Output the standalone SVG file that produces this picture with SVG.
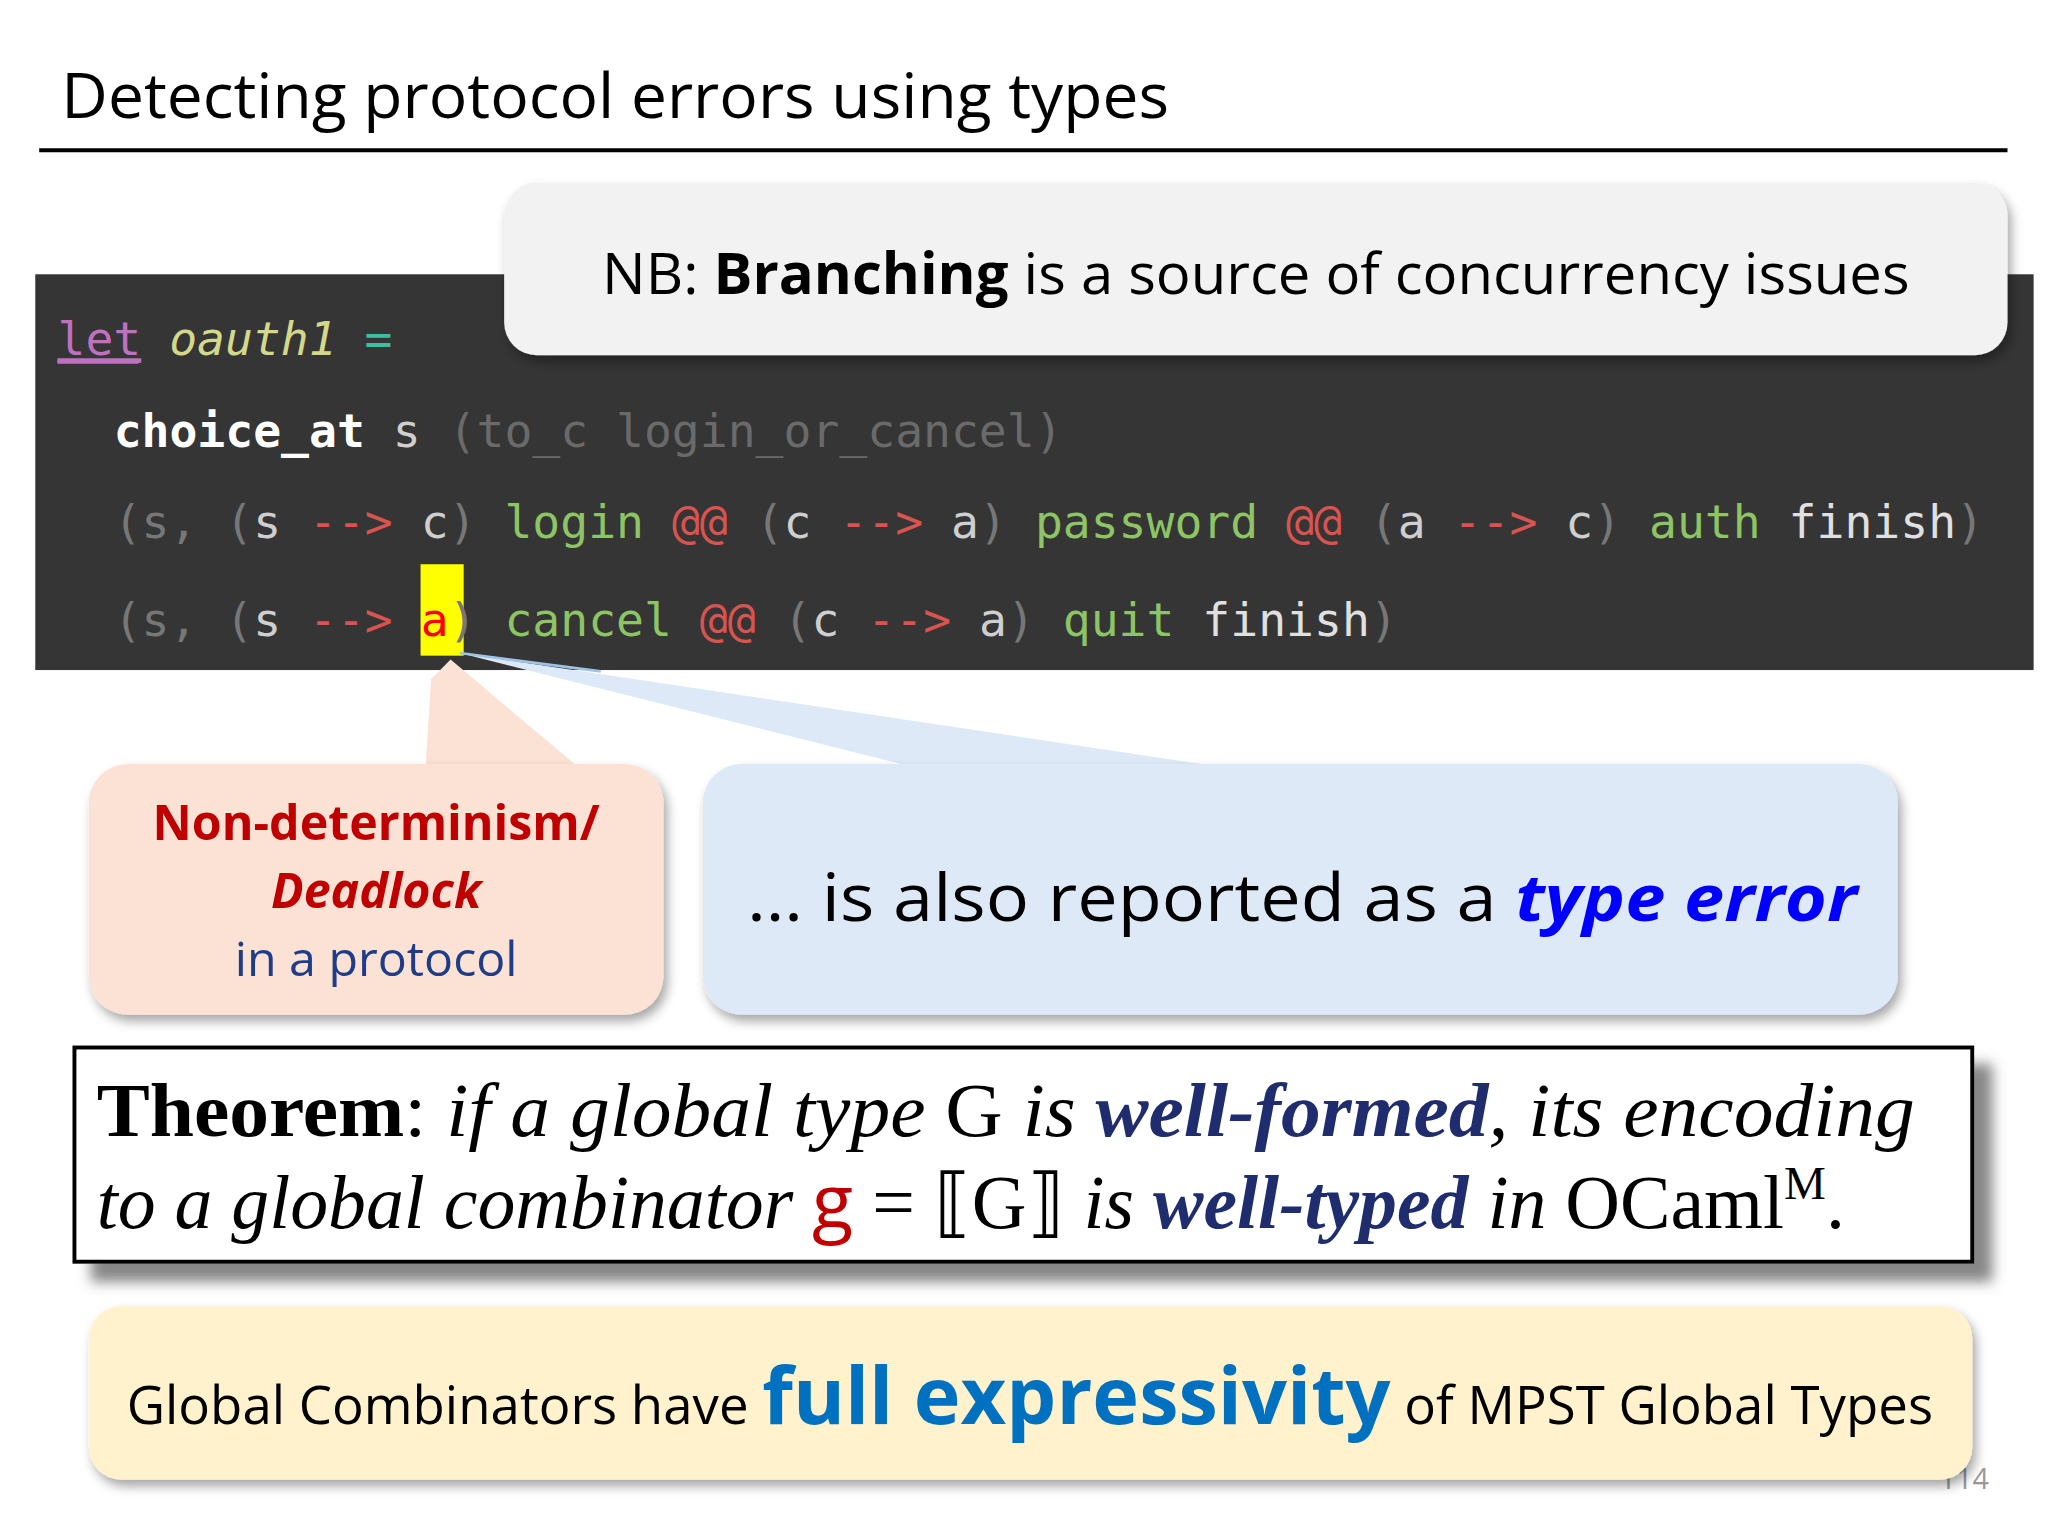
<svg xmlns="http://www.w3.org/2000/svg" width="2048" height="1536" viewBox="0 0 2048 1536">
<defs>
<filter id="sh" x="-10%" y="-10%" width="130%" height="140%"><feDropShadow dx="3" dy="5" stdDeviation="4" flood-color="#000" flood-opacity="0.35"/></filter>
<filter id="sh2" x="-10%" y="-10%" width="130%" height="150%"><feDropShadow dx="14" dy="14" stdDeviation="5" flood-color="#555" flood-opacity="0.7"/></filter>
<style>
.sans{font-family:"Open Sans","Liberation Sans",sans-serif}
.mono{font-family:"DejaVu Sans Mono","Liberation Mono",monospace;font-size:35.5px}
.serif{font-family:"Liberation Serif",serif;font-size:58px}
.p{fill:#777}.v{fill:#cfcfcf}.r{fill:#d9534f}.g{fill:#8dc464}.w{fill:#e0e0e0}
</style>
</defs>
<rect width="2048" height="1536" fill="#fff"/>
<g transform="scale(1.30612)">
<g id="title">
<text x="47" y="90" class="sans" font-size="48" fill="#000" textLength="848" lengthAdjust="spacingAndGlyphs">Detecting protocol errors using types</text>
<line x1="30" y1="115" x2="1537" y2="115" stroke="#000" stroke-width="3"/>
</g>
<text x="1485" y="1140" class="sans" font-size="22" fill="#999">114</text>
<g id="code">
<rect x="27" y="210" width="1530" height="303" fill="#353535"/>
<rect x="322" y="432" width="33" height="70" fill="#ffff00"/>
<text x="44" y="272" class="mono" xml:space="preserve"><tspan fill="#c070c0" text-decoration="underline">let</tspan> <tspan fill="#d4d88a" font-style="italic">oauth1</tspan> <tspan fill="#3cbfa0">=</tspan></text>
<line x1="44" y1="277" x2="106" y2="277" stroke="#c070c0" stroke-width="3"/>
<text x="87" y="342" class="mono" xml:space="preserve"><tspan fill="#fff" font-weight="bold">choice_at</tspan><tspan class="v"> s </tspan><tspan fill="#6a6a6a">(to_c login_or_cancel)</tspan></text>
<text x="87" y="412" class="mono" xml:space="preserve"><tspan class="p">(s, (</tspan><tspan class="v">s</tspan> <tspan class="r">--&gt;</tspan> <tspan class="v">c</tspan><tspan class="p">)</tspan> <tspan class="g">login</tspan> <tspan class="r">@@</tspan> <tspan class="p">(</tspan><tspan class="v">c</tspan> <tspan class="r">--&gt;</tspan> <tspan class="v">a</tspan><tspan class="p">)</tspan> <tspan class="g">password</tspan> <tspan class="r">@@</tspan> <tspan class="p">(</tspan><tspan class="v">a</tspan> <tspan class="r">--&gt;</tspan> <tspan class="v">c</tspan><tspan class="p">)</tspan> <tspan class="g">auth</tspan> <tspan class="w">finish</tspan><tspan class="p">)</tspan></text>
<text x="87" y="487" class="mono" xml:space="preserve"><tspan class="p">(s, (</tspan><tspan class="v">s</tspan> <tspan class="r">--&gt;</tspan> <tspan fill="#ff0000">a</tspan><tspan class="p">)</tspan> <tspan class="g">cancel</tspan> <tspan class="r">@@</tspan> <tspan class="p">(</tspan><tspan class="v">c</tspan> <tspan class="r">--&gt;</tspan> <tspan class="v">a</tspan><tspan class="p">)</tspan> <tspan class="g">quit</tspan> <tspan class="w">finish</tspan><tspan class="p">)</tspan></text>
</g>
<g id="nb">
<rect x="386" y="140" width="1151" height="132" rx="25" fill="#f2f2f2" filter="url(#sh)"/>
<text x="461" y="225" class="sans" font-size="44" fill="#000" textLength="1001" lengthAdjust="spacingAndGlyphs">NB: <tspan font-weight="bold">Branching</tspan> is a source of concurrency issues</text>
</g>
<g id="connectors">
<polygon points="330,520 345,505 440,585 326,585" fill="#fbe2d5"/>
<polygon points="352,500 920,585 690,585" fill="#dde9f6"/>
<line x1="352" y1="500" x2="460" y2="514" stroke="#9dc3e6" stroke-width="2"/>
</g>
<g id="nondet">
<rect x="68" y="585" width="440" height="192" rx="30" fill="#fbe2d5" filter="url(#sh)"/>
<text x="288" y="643" class="sans" font-size="37" font-weight="bold" fill="#c00000" text-anchor="middle">Non-determinism/</text>
<text x="288" y="695" class="sans" font-size="37" font-weight="bold" font-style="italic" fill="#c00000" text-anchor="middle">Deadlock</text>
<text x="288" y="747" class="sans" font-size="37" fill="#1f3c88" text-anchor="middle">in a protocol</text>
</g>
<g id="typeerror">
<rect x="538" y="585" width="915" height="192" rx="30" fill="#dde9f6" filter="url(#sh)"/>
<text x="572" y="705" class="sans" font-size="50" fill="#000" textLength="850" lengthAdjust="spacingAndGlyphs">… is also reported as a <tspan font-weight="bold" font-style="italic" fill="#0000ff">type error</tspan></text>
</g>
<g id="theorem">
<rect x="57" y="802" width="1453" height="164" fill="#fff" stroke="#000" stroke-width="3" filter="url(#sh2)"/>
<text x="74" y="870" class="serif" fill="#000" textLength="1392" lengthAdjust="spacingAndGlyphs"><tspan font-weight="bold">Theorem</tspan>: <tspan font-style="italic">if a global type</tspan> G <tspan font-style="italic">is </tspan><tspan font-weight="bold" font-style="italic" fill="#1f2d6e">well-formed</tspan><tspan font-style="italic">, its encoding</tspan></text>
<text x="74" y="940" class="serif" fill="#000"><tspan font-style="italic">to a global combinator </tspan><tspan fill="#c00000" font-family="Open Sans, sans-serif">g</tspan> = ⟦G⟧ <tspan font-style="italic">is </tspan><tspan font-weight="bold" font-style="italic" fill="#1f2d6e">well-typed</tspan><tspan font-style="italic"> in</tspan> OCaml<tspan font-size="36" dy="-22">M</tspan><tspan dy="22">.</tspan></text>
</g>
<g id="expressivity">
<rect x="68" y="1000" width="1442" height="133" rx="25" fill="#fff2cc" filter="url(#sh)"/>
<text x="97" y="1090" class="sans" font-size="40" fill="#000" textLength="1383" lengthAdjust="spacingAndGlyphs">Global Combinators have <tspan font-size="60" font-weight="bold" fill="#0070c0">full expressivity</tspan> of MPST Global Types</text>
</g>
</g>
</svg>
